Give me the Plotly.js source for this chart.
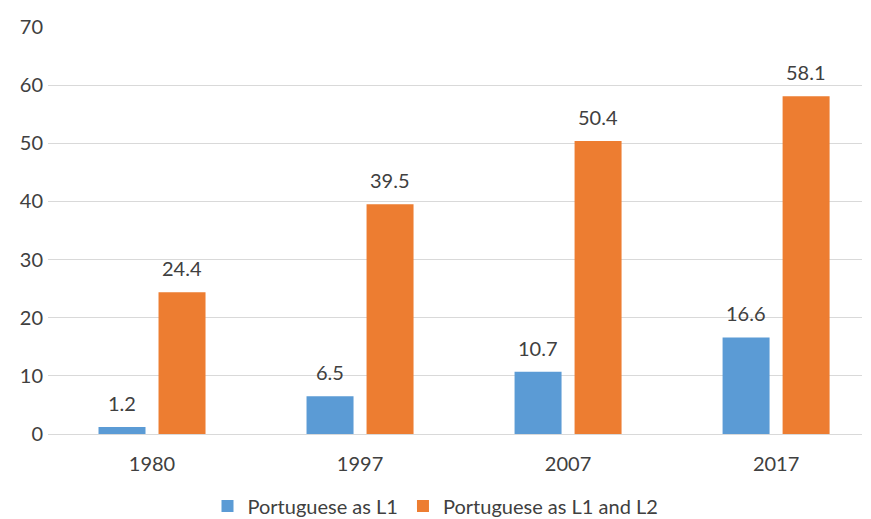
<!DOCTYPE html>
<html>
<head>
<meta charset="utf-8">
<script src="https://cdn.plot.ly/plotly-3.0.1.min.js"></script>
<style>html,body{margin:0;padding:0;background:#fff;}#chart{width:871px;height:519px;}</style>
</head>
<body>
<div id="chart"></div>
<script>
const years = ["1980", "1997", "2007", "2017"];
const l1 = [1.2, 6.5, 10.7, 16.6];
const l1l2 = [24.4, 39.5, 50.4, 58.1];
const l1Labels = ["1.2", "6.5", "10.7", "16.6"];
const l1l2Labels = ["24.4", "39.5", "50.4", "58.1"];
const yTicks = [0, 10, 20, 30, 40, 50, 60, 70];

const font = "Lato, 'Open Sans', sans-serif";
const txtColor = "#404040";
const traces = [
  {type: "bar", name: "Portuguese as L1", x: years, y: l1,
   marker: {color: "#5B9BD5"}, hoverinfo: "none"},
  {type: "bar", name: "Portuguese as L1 and L2", x: years, y: l1l2,
   marker: {color: "#ED7D31"}, hoverinfo: "none"}
];
const annotations = [];
years.forEach((yr, i) => {
  annotations.push({x: i, y: l1[i], xref: "x", yref: "y", text: l1Labels[i], showarrow: false,
    xshift: -30, yshift: 24, yanchor: "middle", font: {family: font, size: 20, color: txtColor}});
  annotations.push({x: i, y: l1l2[i], xref: "x", yref: "y", text: l1l2Labels[i], showarrow: false,
    xshift: 30, yshift: 24, yanchor: "middle", font: {family: font, size: 20, color: txtColor}});
});
const layout = {
  width: 871, height: 519,
  margin: {l: 48, r: 9, t: 27, b: 85, autoexpand: false},
  paper_bgcolor: "#fff", plot_bgcolor: "#fff",
  barmode: "group", bargap: 0.423, bargroupgap: 0.217,
  font: {family: font, size: 20, color: txtColor},
  xaxis: {type: "category", range: [-0.5, 3.413], showgrid: false, showline: false, zeroline: false,
          ticks: "", ticklabelstandoff: 16, tickfont: {family: font, size: 20, color: txtColor}},
  yaxis: {range: [0, 70], tickvals: yTicks, ticktext: yTicks.map(String),
          showgrid: true, gridcolor: "#d9d9d9", gridwidth: 1,
          zeroline: true, zerolinecolor: "#d9d9d9", zerolinewidth: 1,
          showline: false, ticks: "", ticklabelstandoff: 4,
          tickfont: {family: font, size: 20, color: txtColor}},
  showlegend: true,
  legend: {orientation: "h", x: 0.5, xanchor: "center", xref: "container",
           y: 0.025, yanchor: "middle", yref: "container",
           font: {family: font, size: 20, color: txtColor}, itemwidth: 30, traceorder: "normal"},
  annotations: annotations
};
Plotly.newPlot("chart", traces, layout, {staticPlot: true, displayModeBar: false});
</script>
</body>
</html>
